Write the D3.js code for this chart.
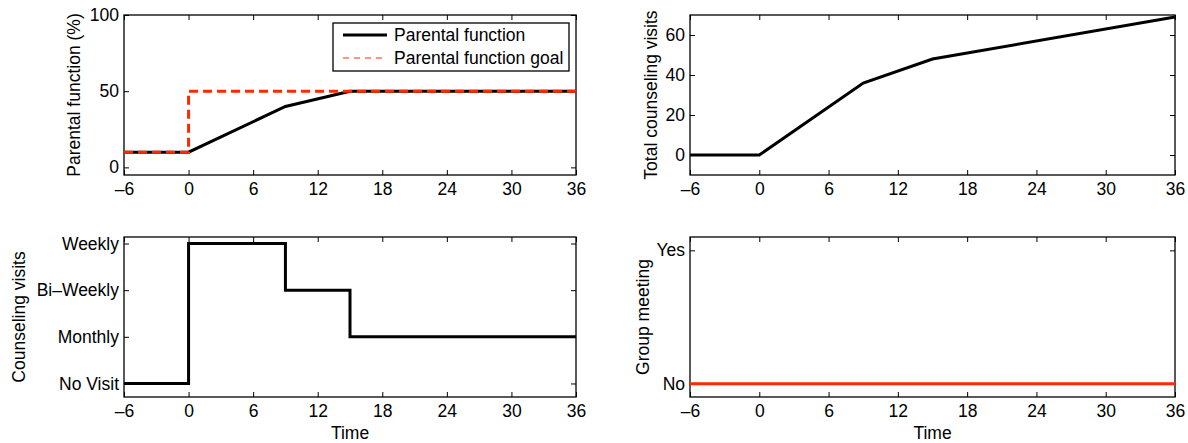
<!DOCTYPE html>
<html>
<head>
<meta charset="utf-8">
<title>Parental function</title>
<style>
body { margin: 0; background: #fff; }
svg { display: block; font-family: "Liberation Sans", Arial, sans-serif; }
</style>
<script src="https://d3js.org/d3.v7.min.js"></script>
</head>
<body>
<svg id="fig" width="1188" height="443"></svg>
<script>
// time axis (months)
const timeTicks = [-6, 0, 6, 12, 18, 24, 30, 36];

// parental function (%)
const pfTime = [-6, 0, 9, 15, 36];
const pfValue = [10, 10, 40, 50, 50];
const goalTime = [-6, 0, 36];
const goalValue = [10, 50, 50];

// total counseling visits
const tvTime = [-6, 0, 9, 15, 36];
const tvValue = [0, 0, 36, 48, 69];

// counseling visit frequency (step)
const cvTime = [-6, 0, 9, 15, 36];
const cvValue = [0, 3, 2, 1, 1];
const cvLabels = ["No Visit", "Monthly", "Bi\u2013Weekly", "Weekly"];

// group meeting
const gmTime = [-6, 36];
const gmValue = [0, 0];
const gmLabels = ["No", "Yes"];

const RED = "rgb(255,40,0)";
const FS = "17.5px";
const svg = d3.select("#fig");

function panel(o) {
    const x = d3.scaleLinear().domain([-6, 36]).range([o.x0, o.x1]);
    const y = d3.scaleLinear().domain(o.yDomain).range([o.y1, o.y0]);
    const g = svg.append("g");

    const tickFmt = o.yLabels ? (d) => o.yLabels[d] : (d) => d;
    const xFmt = (d) => String(d).replace("-", "\u2013");

    // bottom / left axes with inward ticks
    const ax = g.append("g").attr("transform", `translate(0,${o.y1})`)
        .call(d3.axisBottom(x).tickValues(timeTicks).tickSize(-5).tickPadding(8).tickFormat(xFmt));
    const ay = g.append("g").attr("transform", `translate(${o.x0},0)`)
        .call(d3.axisLeft(y).tickValues(o.yTicks).tickSize(-5).tickPadding(5).tickFormat(tickFmt));
    // mirrored ticks on top / right
    const at = g.append("g").attr("transform", `translate(0,${o.y0})`)
        .call(d3.axisTop(x).tickValues(timeTicks).tickSize(-5).tickFormat(""));
    const ar = g.append("g").attr("transform", `translate(${o.x1},0)`)
        .call(d3.axisRight(y).tickValues(o.yTicks).tickSize(-5).tickFormat(""));
    [ax, ay, at, ar].forEach((a) => {
        a.attr("font-size", null).attr("font-family", null);
        a.select(".domain").remove();
        a.selectAll("line").attr("stroke", "#000").attr("stroke-width", 1);
        a.selectAll("text").attr("fill", "#000").style("font-size", FS);
    });

    g.append("rect")
        .attr("x", o.x0).attr("y", o.y0)
        .attr("width", o.x1 - o.x0).attr("height", o.y1 - o.y0)
        .attr("fill", "none").attr("stroke", "#000").attr("stroke-width", 1.3);

    g.append("text")
        .attr("transform", `translate(${o.labelX},${(o.y0 + o.y1) / 2}) rotate(-90)`)
        .attr("text-anchor", "middle")
        .style("font-size", FS)
        .text(o.yTitle);

    if (o.xTitle) {
        g.append("text")
            .attr("x", (o.x0 + o.x1) / 2).attr("y", o.y1 + 42)
            .attr("text-anchor", "middle")
            .style("font-size", FS)
            .text(o.xTitle);
    }

    o.series.forEach((s) => {
        const pts = s.t.map((t, i) => [t, s.v[i]]);
        const line = d3.line().x((d) => x(d[0])).y((d) => y(d[1]))
            .curve(s.step ? d3.curveStepAfter : d3.curveLinear);
        g.append("path")
            .datum(pts)
            .attr("d", line)
            .attr("fill", "none")
            .attr("stroke", s.color)
            .attr("stroke-width", 3)
            .attr("stroke-dasharray", s.dash || null);
    });
    return g;
}

const top0 = 15, top1 = 175, bot0 = 237, bot1 = 397;
const left0 = 124, left1 = 576, right0 = 690, right1 = 1175;

const g1 = panel({
    x0: left0, x1: left1, y0: top0, y1: top1,
    yDomain: [-5, 100], yTicks: [0, 50, 100],
    yTitle: "Parental function (%)", labelX: 80,
    series: [
        { t: pfTime, v: pfValue, color: "#000" },
        { t: goalTime, v: goalValue, color: RED, dash: "9,5", step: true }
    ]
});

// legend
const lg = g1.append("g").attr("transform", "translate(333,23)");
lg.append("rect").attr("width", 236).attr("height", 48)
    .attr("fill", "#fff").attr("stroke", "#000").attr("stroke-width", 1.3);
lg.append("line").attr("x1", 10).attr("x2", 54).attr("y1", 12).attr("y2", 12)
    .attr("stroke", "#000").attr("stroke-width", 3);
lg.append("line").attr("x1", 10).attr("x2", 54).attr("y1", 35).attr("y2", 35)
    .attr("stroke", RED).attr("stroke-width", 1).attr("stroke-dasharray", "6,5");
lg.append("text").attr("x", 61).attr("y", 18).style("font-size", FS).text("Parental function");
lg.append("text").attr("x", 61).attr("y", 41).style("font-size", FS).text("Parental function goal");

panel({
    x0: right0, x1: right1, y0: top0, y1: top1,
    yDomain: [-10, 70], yTicks: [0, 20, 40, 60],
    yTitle: "Total counseling visits", labelX: 657,
    series: [{ t: tvTime, v: tvValue, color: "#000" }]
});

panel({
    x0: left0, x1: left1, y0: bot0, y1: bot1,
    yDomain: [-0.29, 3.14], yTicks: [0, 1, 2, 3], yLabels: cvLabels,
    yTitle: "Counseling visits", labelX: 25, xTitle: "Time",
    series: [{ t: cvTime, v: cvValue, color: "#000", step: true }]
});

panel({
    x0: right0, x1: right1, y0: bot0, y1: bot1,
    yDomain: [-0.1, 1.1], yTicks: [0, 1], yLabels: gmLabels,
    yTitle: "Group meeting", labelX: 649, xTitle: "Time",
    series: [{ t: gmTime, v: gmValue, color: RED }]
});
</script>
</body>
</html>
